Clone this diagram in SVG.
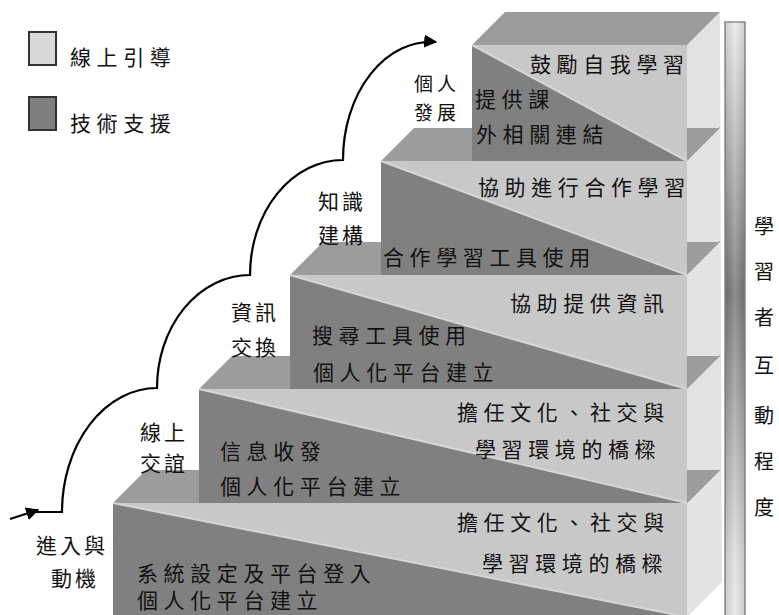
<svg xmlns="http://www.w3.org/2000/svg" width="779" height="615" viewBox="0 0 779 615">
<style>
text{font-family:"Noto Sans CJK TC","Noto Sans CJK SC",sans-serif;font-size:21px;fill:#111;letter-spacing:5.6px}
.s{letter-spacing:3px}
.sm{font-size:19px;letter-spacing:4px}
.v{font-size:20px;letter-spacing:0;text-anchor:middle}
.top{fill:#9c9c9c}
.lt{fill:#c8c8c8}
.dk{fill:#808080}
.hl{stroke:#d6d6d6;stroke-width:2;fill:none}
.sl{stroke:#a8a8a8;stroke-width:1;fill:none}
.cv{stroke:#000;stroke-width:2.2;fill:none}
</style>
<defs>
<linearGradient id="bar" x1="0" y1="0" x2="0" y2="1">
<stop offset="0" stop-color="#ececec"/>
<stop offset="0.45" stop-color="#7a7a7a"/>
<stop offset="0.9" stop-color="#e2e2e2"/>
<stop offset="1" stop-color="#e8e8e8"/>
</linearGradient>
<linearGradient id="barh" x1="0" y1="0" x2="1" y2="0">
<stop offset="0" stop-color="#000" stop-opacity="0.12"/>
<stop offset="0.5" stop-color="#fff" stop-opacity="0.15"/>
<stop offset="1" stop-color="#000" stop-opacity="0.12"/>
</linearGradient>
<marker id="ah" viewBox="0 0 10 10" refX="9" refY="5" markerWidth="6" markerHeight="6" orient="auto" markerUnits="strokeWidth">
<path d="M0,0 L10,5 L0,10 z" fill="#000"/>
</marker>
</defs>
<rect width="779" height="615" fill="#fff"/>

<g id="legend-guide">
<rect x="29" y="32" width="27" height="33" fill="#d9d9d9" stroke="#333" stroke-width="2"/>
<text x="70" y="65">線上引導</text>
</g>
<g id="legend-tech">
<rect x="29" y="97" width="27" height="33" fill="#7f7f7f" stroke="#333" stroke-width="2"/>
<text x="70" y="131">技術支援</text>
</g>

<g id="side-face">
<polygon points="687,45 720,12 722,582 687,617" fill="#e3e3e3"/>
<line class="sl" x1="687" y1="160" x2="720" y2="127"/>
<line class="sl" x1="687" y1="274" x2="720" y2="241"/>
<line class="sl" x1="687" y1="388" x2="720" y2="355"/>
<line class="sl" x1="687" y1="503" x2="720" y2="470"/>
</g>

<g id="level1">
<polygon class="top" points="113,503 146,470 720,470 687,503"/>
<rect class="lt" x="113" y="503" width="574" height="114"/>
<polygon class="dk" points="113,503 687,617 113,617"/>
<line class="hl" x1="113" y1="503" x2="687" y2="617"/>
<text x="457" y="530">擔任文化、社交與</text>
<text x="482" y="571">學習環境的橋樑</text>
<text x="137" y="581">系統設定及平台登入</text>
<text x="137" y="608">個人化平台建立</text>
</g>

<g id="level2">
<polygon class="top" points="199,389 232,356 720,356 687,389"/>
<rect class="lt" x="199" y="389" width="488" height="114"/>
<polygon class="dk" points="199,389 687,503 199,503"/>
<line class="hl" x1="199" y1="389" x2="687" y2="503"/>
<text x="457" y="420">擔任文化、社交與</text>
<text x="475" y="457">學習環境的橋樑</text>
<text x="220" y="459">信息收發</text>
<text x="220" y="494">個人化平台建立</text>
</g>

<g id="level3">
<polygon class="top" points="290,275 323,242 720,242 687,275"/>
<rect class="lt" x="290" y="275" width="397" height="114"/>
<polygon class="dk" points="290,275 687,389 290,389"/>
<line class="hl" x1="290" y1="275" x2="687" y2="389"/>
<text x="510" y="311">協助提供資訊</text>
<text x="312" y="343">搜尋工具使用</text>
<text x="313" y="380">個人化平台建立</text>
</g>

<g id="level4">
<polygon class="top" points="381,161 414,128 720,128 687,161"/>
<rect class="lt" x="381" y="161" width="306" height="114"/>
<polygon class="dk" points="381,161 687,275 381,275"/>
<line class="hl" x1="381" y1="161" x2="687" y2="275"/>
<text x="478" y="195">協助進行合作學習</text>
<text x="383" y="265">合作學習工具使用</text>
</g>

<g id="level5">
<polygon class="top" points="472,45 505,12 720,12 687,45"/>
<rect class="lt" x="472" y="45" width="215" height="116"/>
<polygon class="dk" points="472,45 687,161 472,161"/>
<line class="hl" x1="472" y1="45" x2="687" y2="161"/>
<text x="530" y="72">鼓勵自我學習</text>
<text x="475" y="107">提供課</text>
<text x="476" y="142">外相關連結</text>
</g>

<g id="stage-labels">
<text class="s" x="36" y="553">進入與</text>
<text class="s" x="51" y="586">動機</text>
<text class="s" x="140" y="440">線上</text>
<text class="s" x="140" y="471">交誼</text>
<text class="s" x="231" y="320">資訊</text>
<text class="s" x="231" y="355">交換</text>
<text class="s" x="318" y="209">知識</text>
<text class="s" x="318" y="243">建構</text>
<text class="sm" x="414" y="91">個人</text>
<text class="sm" x="414" y="120">發展</text>
</g>

<g id="scale-bar">
<rect x="725" y="22" width="20" height="600" fill="url(#bar)" stroke="#8c8c8c" stroke-width="1.5"/>
<rect x="725" y="22" width="20" height="600" fill="url(#barh)"/>
<text class="v" x="764" y="234">學</text>
<text class="v" x="764" y="279">習</text>
<text class="v" x="764" y="325">者</text>
<text class="v" x="764" y="373">互</text>
<text class="v" x="764" y="423">動</text>
<text class="v" x="764" y="469">程</text>
<text class="v" x="764" y="515">度</text>
</g>

<g id="connectors">
<path class="cv" d="M10,519 L38,510" marker-end="url(#ah)"/>
<path class="cv" d="M36,512 L62,512 A95,124 0 0 1 157,388 A93,113 0 0 1 250,275 A93,115 0 0 1 343,160 A88,118 0 0 1 436,42" marker-end="url(#ah)"/>
</g>
</svg>
